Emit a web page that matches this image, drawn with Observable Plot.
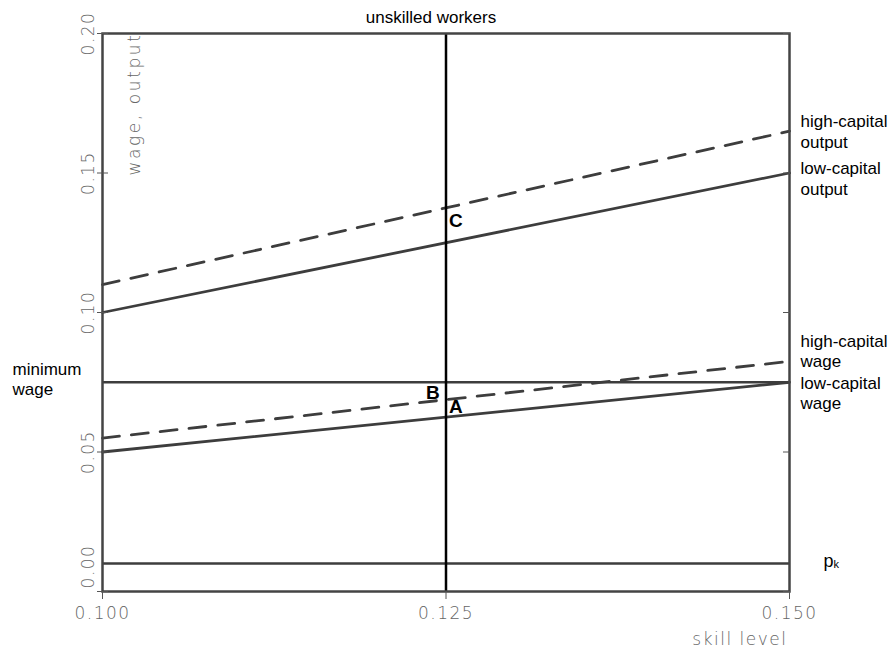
<!DOCTYPE html>
<html><head><meta charset="utf-8">
<script src="https://cdn.jsdelivr.net/npm/d3@7"></script>
<script src="https://cdn.jsdelivr.net/npm/@observablehq/plot@0.6"></script>
<style>
body{margin:0;background:#fff}
svg{display:block}
.tk text{font-family:"DejaVu Sans",sans-serif;font-weight:200;letter-spacing:1.5px}
.tkw text{font-family:"DejaVu Sans",sans-serif;font-weight:200;letter-spacing:2.6px}
</style>
</head><body><div id="chart"></div>
<script>
// ---- data ----
const skillLevel = [0.100, 0.150];
const lowCapitalOutput = [0.100, 0.150];
const highCapitalOutput = [0.110, 0.165];
const lowCapitalWage = [0.050, 0.075];
const highCapitalWage = [0.055, 0.0825];
const minimumWage = 0.075;
const capitalPrice = 0.010;
const unskilledLevel = 0.125;
const xTicks = [0.100, 0.125, 0.150];
const yTicks = [0.00, 0.05, 0.10, 0.15, 0.20];
const seriesNames = ["high-capital\noutput", "low-capital\noutput", "high-capital\nwage", "low-capital\nwage"];
const seriesValues = [highCapitalOutput, lowCapitalOutput, highCapitalWage, lowCapitalWage];
const seriesDashed = [true, false, true, false];
const pointLetters = ["C", "B", "A"];

// ---- tables ----
const rows = seriesNames.flatMap((name, k) =>
  skillLevel.map((x, i) => ({x, y: seriesValues[k][i], name, dashed: seriesDashed[k]})));
const interp = (arr) => arr[0] + (arr[1] - arr[0]) * (unskilledLevel - skillLevel[0]) / (skillLevel[1] - skillLevel[0]);
const pointY = [(interp(highCapitalOutput) + interp(lowCapitalOutput)) / 2, minimumWage, interp(lowCapitalWage)];
const pointOffsets = [[3, -4], [-20, 11], [3, -10]];
const labelShift = [0, 5, -11, 10];

const lineColor = "#3d3d3d";
const tickColor = "#666";
const labelFont = "Liberation Sans, Arial, sans-serif";

const endLabelMarks = seriesNames.map((name, k) =>
  Plot.text([name], {x: [skillLevel[1]], y: [seriesValues[k][1]], dx: 11, dy: labelShift[k], textAnchor: "start", lineAnchor: "middle", lineHeight: 1.2, fill: "#000", fontSize: 17, fontFamily: labelFont}));
const letterMarks = pointLetters.map((t, k) =>
  Plot.text([t], {x: [unskilledLevel], y: [pointY[k]], dx: pointOffsets[k][0], dy: pointOffsets[k][1], textAnchor: "start", lineAnchor: "middle", fill: "#000", fontSize: 19, fontWeight: "bold", fontFamily: labelFont}));

const chart = Plot.plot({
  width: 891, height: 654,
  marginLeft: 102, marginRight: 102, marginTop: 33, marginBottom: 63,
  x: {domain: [0.1, 0.15], axis: null},
  y: {domain: [0, 0.2], axis: null},
  style: {background: "#fff"},
  marks: [
    Plot.ruleY([minimumWage], {stroke: lineColor, strokeWidth: 2.5}),
    Plot.ruleY([capitalPrice], {stroke: lineColor, strokeWidth: 2.5}),
    Plot.line(rows.filter(d => !d.dashed), {x: "x", y: "y", z: "name", stroke: lineColor, strokeWidth: 2.8}),
    Plot.line(rows.filter(d => d.dashed), {x: "x", y: "y", z: "name", stroke: lineColor, strokeWidth: 2.8, strokeDasharray: "17,12"}),
    Plot.ruleX([unskilledLevel], {stroke: "#000", strokeWidth: 2.5}),
    Plot.frame({stroke: "#444", strokeWidth: 2.5}),
    Plot.axisY({ticks: yTicks, anchor: "left", tickSize: 11, dx: 6, stroke: "#555", tickFormat: () => "", label: null}),
    Plot.axisY({ticks: yTicks, anchor: "right", tickSize: 7, dx: -7, stroke: "#555", tickFormat: () => "", label: null}),
    Plot.axisX({ticks: xTicks, anchor: "bottom", tickSize: 8, stroke: "#555", tickFormat: () => "", label: null}),
    Plot.text(xTicks, {x: d => d, frameAnchor: "bottom", dy: 22, text: d => d3.format(".3f")(d), textAnchor: "middle", fill: tickColor, fontSize: 17, lineAnchor: "middle", className: "tk"}),
    Plot.text(yTicks.filter(d => d > 0), {y: d => d, frameAnchor: "left", dx: -14, rotate: -90, text: d => d3.format(".2f")(d), textAnchor: "middle", lineAnchor: "middle", fill: tickColor, fontSize: 17, className: "tk"}),
    Plot.text(yTicks.filter(d => d === 0), {y: d => d, frameAnchor: "left", dx: -14, dy: -25, rotate: -90, text: d => d3.format(".2f")(d), textAnchor: "middle", lineAnchor: "middle", fill: tickColor, fontSize: 17, className: "tk"}),
    Plot.text(["wage, output"], {frameAnchor: "top-left", dx: 32, dy: -1, rotate: -90, textAnchor: "end", lineAnchor: "middle", fill: tickColor, fontSize: 17, className: "tkw"}),
    Plot.text(["skill level"], {frameAnchor: "bottom-right", dx: -2, dy: 53, textAnchor: "end", fill: tickColor, fontSize: 17, className: "tk"}),
    Plot.text(["unskilled workers"], {x: [unskilledLevel], frameAnchor: "top", dx: -15, dy: -23, textAnchor: "middle", fill: "#000", fontSize: 17, fontFamily: labelFont}),
    ...endLabelMarks,
    Plot.text(["minimum\nwage"], {x: [skillLevel[0]], y: [minimumWage], dx: -90, dy: -4, textAnchor: "start", lineHeight: 1.2, fill: "#000", fontSize: 17, fontFamily: labelFont}),
    Plot.text(["p"], {x: [skillLevel[1]], y: [capitalPrice], dx: 34, dy: -2, textAnchor: "start", fill: "#000", fontSize: 18, fontFamily: labelFont}),
    Plot.text(["k"], {x: [skillLevel[1]], y: [capitalPrice], dx: 44, dy: 1, textAnchor: "start", fill: "#000", fontSize: 11, fontFamily: labelFont}),
    ...letterMarks
  ]
});
document.getElementById("chart").appendChild(chart);
</script>
</body></html>
